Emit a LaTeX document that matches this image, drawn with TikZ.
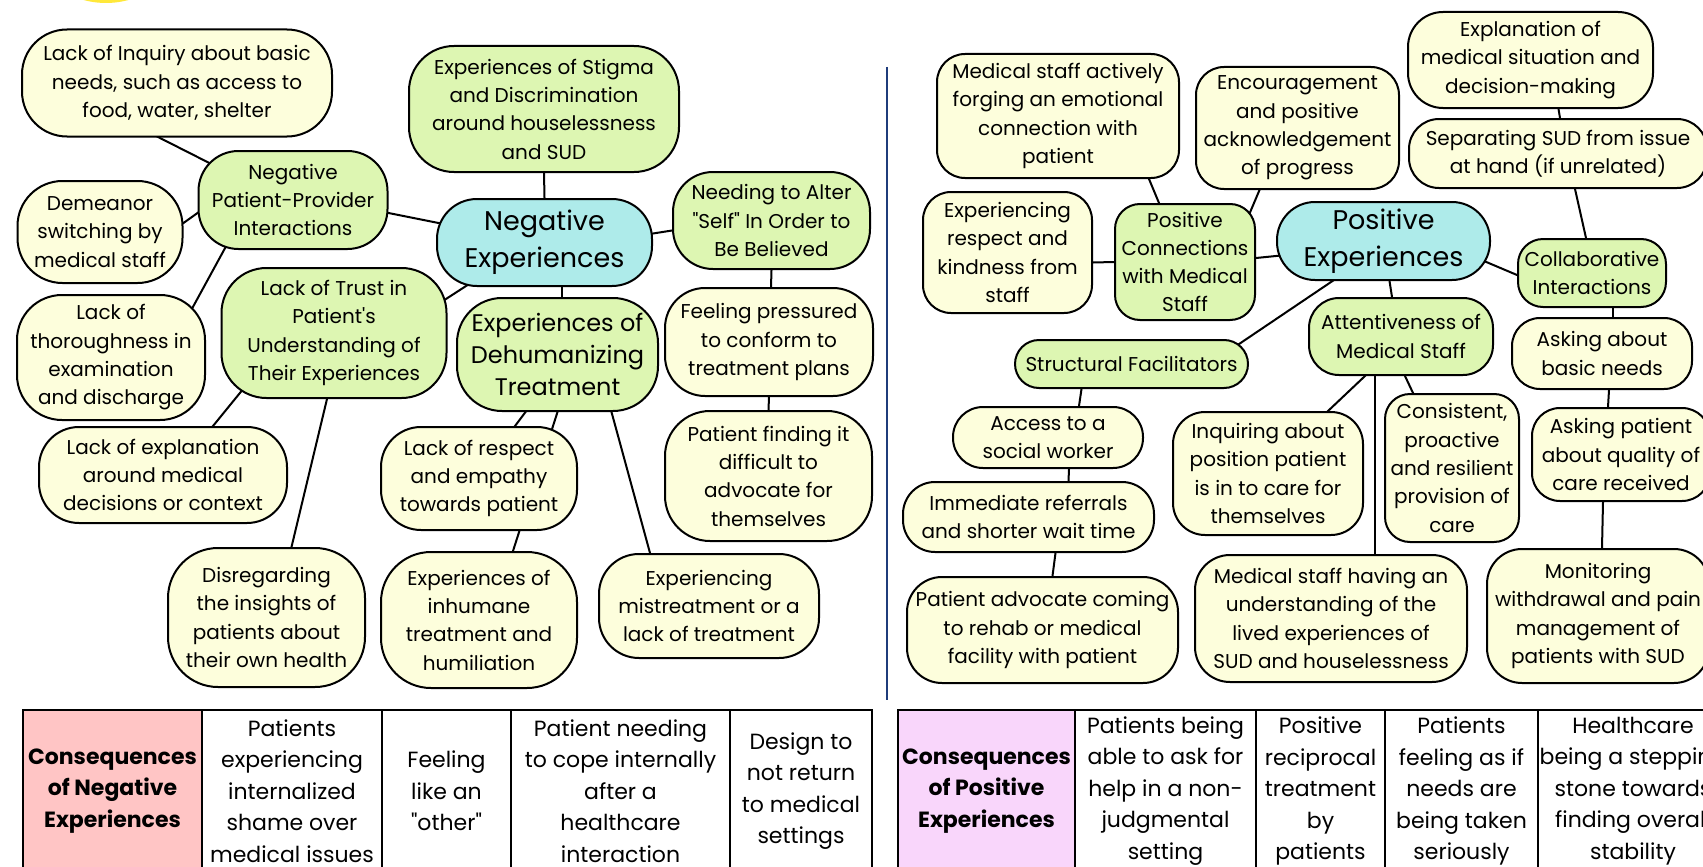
\documentclass[tikz,border=0pt]{standalone}
\usepackage{fontspec}
\setmainfont{Poppins}[Ligatures = TeXOff]
\usetikzlibrary{backgrounds}
\definecolor{leafyellow}{HTML}{FDFEDC}
\definecolor{themegreen}{HTML}{DDF6B2}
\definecolor{corecyan}{HTML}{AEEBEA}
\definecolor{negpink}{HTML}{FFC5C5}
\definecolor{poslilac}{HTML}{F9D6FB}
\definecolor{sunyellow}{HTML}{FFE83A}
\definecolor{divblue}{HTML}{1F3C7B}
\newcommand{\lw}{2pt}

\begin{document}
\begin{tikzpicture}[x = 1pt, y = -1pt,
  every node/.style = {align = center, inner sep = 0pt, font = \fontsize{20}{28.3}\selectfont},
  item/.style = {draw, line width = \lw, fill = leafyellow},
  theme/.style = {draw, line width = \lw, fill = themegreen},
  core/.style = {draw, line width = \lw, fill = corecyan, font = \fontsize{27}{37}\selectfont},
  link/.style = {line width = \lw, shorten <= -20pt, shorten >= -20pt},
  cell/.style = {draw, line width = \lw, anchor = north west, minimum height = 162, font = \fontsize{22}{31.5}\selectfont}]
\useasboundingbox (0,0) rectangle (1703,867);
\clip (0,0) rectangle (1703,867);
\fill [sunyellow] (106,-82) circle (85);
\draw [divblue, line width = 2pt] (887,67) -- (887,700);

\node[core, minimum width = 215, minimum height = 87, rounded corners = 40] (ne) at (544.5,242.5) {Negative\\Experiences};
\node[item, minimum width = 310, minimum height = 107, rounded corners = 45] (n1) at (177,83) {Lack of Inquiry about basic\\needs, such as access to\\food, water, shelter};
\node[theme, minimum width = 189, minimum height = 98, rounded corners = 40] (n2) at (293,200) {Negative\\Patient-Provider\\Interactions};
\node[item, minimum width = 165, minimum height = 102, rounded corners = 45] (n3) at (100,232) {Demeanor\\switching by\\medical staff};
\node[item, minimum width = 188, minimum height = 125, rounded corners = 45] (n4) at (111,357.5) {Lack of\\thoroughness in\\examination\\and discharge};
\node[theme, minimum width = 225, minimum height = 130, rounded corners = 45] (n5) at (334,333) {Lack of Trust in\\Patient's\\Understanding of\\Their Experiences};
\node[theme, minimum width = 270, minimum height = 126, rounded corners = 45] (n6) at (544,109) {Experiences of Stigma\\and Discrimination\\around houselessness\\and SUD};
\node[theme, minimum width = 197, minimum height = 97, rounded corners = 40] (n7) at (771.5,220.5) {Needing to Alter\\"Self" In Order to\\Be Believed};
\node[theme, minimum width = 201, minimum height = 113, rounded corners = 45, font = \fontsize{24}{32}\selectfont] (n8) at (557.5,354.5) {Experiences of\\Dehumanizing\\Treatment};
\node[item, minimum width = 208, minimum height = 108, rounded corners = 40] (n9) at (769,342) {Feeling pressured\\to conform to\\treatment plans};
\node[item, minimum width = 207, minimum height = 130, rounded corners = 45] (n10) at (768.5,476) {Patient finding it\\difficult to\\advocate for\\themselves};
\node[item, minimum width = 248, minimum height = 96, rounded corners = 40] (n11) at (163,475) {Lack of explanation\\around medical\\decisions or context};
\node[item, minimum width = 197, minimum height = 139, rounded corners = 50] (n12) at (266.5,617.5) {Disregarding\\the insights of\\patients about\\their own health};
\node[item, minimum width = 196, minimum height = 103, rounded corners = 40] (n13) at (479,478.5) {Lack of respect\\and empathy\\towards patient};
\node[item, minimum width = 196, minimum height = 136, rounded corners = 50] (n14) at (479,620) {Experiences of\\inhumane\\treatment and\\humiliation};
\node[item, minimum width = 220, minimum height = 104, rounded corners = 40] (n15) at (709,606) {Experiencing\\mistreatment or a\\lack of treatment};

\node[core, minimum width = 213, minimum height = 78, rounded corners = 38] (pe) at (1383.5,241) {Positive\\Experiences};
\node[item, minimum width = 242, minimum height = 124, rounded corners = 28] (p1) at (1058,116) {Medical staff actively\\forging an emotional\\connection with\\patient};
\node[item, minimum width = 203, minimum height = 122, rounded corners = 28] (p2) at (1297.5,128) {Encouragement\\and positive\\acknowledgement\\of progress};
\node[item, minimum width = 169, minimum height = 121, rounded corners = 28] (p3) at (1007.5,252.5) {Experiencing\\respect and\\kindness from\\staff};
\node[theme, minimum width = 140, minimum height = 116, rounded corners = 25] (p4) at (1185,262) {Positive\\Connections\\with Medical\\Staff};
\node[item, minimum width = 245, minimum height = 96, rounded corners = 35] (p5) at (1530.5,60) {Explanation of\\medical situation and\\decision-making};
\node[item, minimum width = 298, minimum height = 69, rounded corners = 30] (p6) at (1558,153.5) {Separating SUD from issue\\at hand (if unrelated)};
\node[theme, minimum width = 148, minimum height = 68, rounded corners = 25] (p7) at (1592,273) {Collaborative\\Interactions};
\node[theme, minimum width = 233, minimum height = 48, rounded corners = 24] (p8) at (1131.5,364) {Structural Facilitators};
\node[theme, minimum width = 184, minimum height = 77, rounded corners = 30] (p9) at (1401,336.5) {Attentiveness of\\Medical Staff};
\node[item, minimum width = 180, minimum height = 71, rounded corners = 28] (p10) at (1602,353.5) {Asking about\\basic needs};
\node[item, minimum width = 190, minimum height = 61, rounded corners = 30] (p11) at (1048,437.5) {Access to a\\social worker};
\node[item, minimum width = 251, minimum height = 70, rounded corners = 32] (p12) at (1028.5,517) {Immediate referrals\\and shorter wait time};
\node[item, minimum width = 271, minimum height = 106, rounded corners = 35] (p13) at (1042.5,630) {Patient advocate coming\\to rehab or medical\\facility with patient};
\node[item, minimum width = 190, minimum height = 123, rounded corners = 32] (p14) at (1268,473.5) {Inquiring about\\position patient\\is in to care for\\themselves};
\node[item, minimum width = 134, minimum height = 148, rounded corners = 25] (p15) at (1452,468) {Consistent,\\proactive\\and resilient\\provision of\\care};
\node[item, minimum width = 178, minimum height = 93, rounded corners = 28] (p16) at (1621,454.5) {Asking patient\\about quality of\\care received};
\node[item, minimum width = 272, minimum height = 127, rounded corners = 35] (p17) at (1331,618.5) {Medical staff having an\\understanding of the\\lived experiences of\\SUD and houselessness};
\node[item, minimum width = 222, minimum height = 134, rounded corners = 35] (p18) at (1598,616) {Monitoring\\withdrawal and pain\\management of\\patients with SUD};

\begin{pgfonlayer}{background}
\draw [link] ([xshift = -18pt]n1.south) edge ([yshift = 43pt]n2.west);
\draw [link] ([yshift = 9pt]n3.east) edge ([yshift = -13pt]n2.west);
\draw [link] ([xshift = -69pt]n2.south) edge ([xshift = 89pt]n4.north);
\draw [link] ([yshift = -13pt]n2.east) edge ([yshift = 20pt]ne.west);
\draw [link] (n6.south) edge (ne.north);
\draw [link] ([yshift = 9pt]ne.east) edge ([yshift = -10pt]n7.west);
\draw [link] ([xshift = 17pt]ne.south) edge ([xshift = 4pt]n8.north);
\draw [link] ([xshift = -80pt]ne.south) edge ([yshift = 35pt]n5.east);
\draw [link] (n7.south) edge ([xshift = 2pt]n9.north);
\draw [link] (n9.south) edge (n10.north);
\draw [link] ([xshift = -32pt]n8.south) edge ([xshift = 36pt]n13.north);
\draw [link] (n8.south) edge ([xshift = 34pt]n14.north);
\draw [link] ([xshift = 54pt]n8.south) edge ([xshift = -59pt]n15.north);
\draw [link] ([xshift = -99pt]n5.south) edge ([xshift = 50pt]n11.north);
\draw [link] ([xshift = -7pt]n5.south) edge ([xshift = 25pt]n12.north);
\draw [link] ([xshift = 91pt]p1.south) edge ([xshift = -26pt]p4.north);
\draw [link] ([xshift = -38pt]p2.south) edge ([xshift = 69pt]p4.north);
\draw [link] ([yshift = -10pt]p3.east) edge (p4.west);
\draw [link] ([yshift = 4pt]p4.east) edge ([yshift = -15pt]pe.west);
\draw [link] ([xshift = -51pt]pe.south) edge ([xshift = 115pt]p8.north);
\draw [link] ([xshift = 28pt]p5.south) edge ([xshift = 2pt]p6.north);
\draw [link] ([xshift = 17pt]p6.south) edge ([xshift = -6pt]p7.north);
\draw [link] ([yshift = -23pt]pe.east) edge ([yshift = -2pt]p7.west);
\draw [link] ([xshift = 6pt]pe.south) edge ([xshift = -9pt]p9.north);
\draw [link] ([xshift = 21pt]p7.south) edge ([xshift = 11pt]p10.north);
\draw [link] ([xshift = -36pt]p9.south) edge ([xshift = 60pt]p14.north);
\draw [link] ([xshift = -26pt]p9.south) edge ([xshift = 44pt]p17.north);
\draw [link] ([xshift = 4pt]p9.south) edge ([xshift = -39pt]p15.north);
\draw [link] ([xshift = 7pt]p10.south) edge ([xshift = -13pt]p16.north);
\draw [link] ([xshift = -18pt]p16.south) edge ([xshift = 4pt]p18.north);
\draw [link] ([xshift = -50pt]p8.south) edge ([xshift = 31pt]p11.north);
\draw [link] ([xshift = 21pt]p11.south) edge ([xshift = 40pt]p12.north);
\draw [link] ([xshift = 27pt]p12.south) edge ([xshift = 10pt]p13.north);
\end{pgfonlayer}

\node[cell, fill = negpink, minimum width = 179] (t1) at (22,709) {\textbf{Consequences}\\\textbf{of Negative}\\\textbf{Experiences}};
\node[cell, minimum width = 180] (t2) at (201,709) {Patients\\experiencing\\internalized\\shame over\\medical issues};
\node[cell, minimum width = 129] (t3) at (381,709) {Feeling\\like an\\"other"};
\node[cell, minimum width = 219] (t4) at (510,709) {Patient needing\\to cope internally\\after a\\healthcare\\interaction};
\node[cell, minimum width = 142] (t5) at (729,709) {Design to\\not return\\to medical\\settings};
\node[cell, fill = poslilac, minimum width = 177] (s1) at (897,709) {\textbf{Consequences}\\\textbf{of Positive}\\\textbf{Experiences}};
\node[cell, minimum width = 181] (s2) at (1074,709) {Patients being\\able to ask for\\help in a non-\\judgmental\\setting};
\node[cell, minimum width = 129] (s3) at (1255,709) {Positive\\reciprocal\\treatment\\by\\patients};
\node[cell, minimum width = 153] (s4) at (1384,709) {Patients\\feeling as if\\needs are\\being taken\\seriously};
\node[cell, minimum width = 190] (s5) at (1537,709) {Healthcare\\being a stepping\\stone towards\\finding overall\\stability};
\end{tikzpicture}
\end{document}
